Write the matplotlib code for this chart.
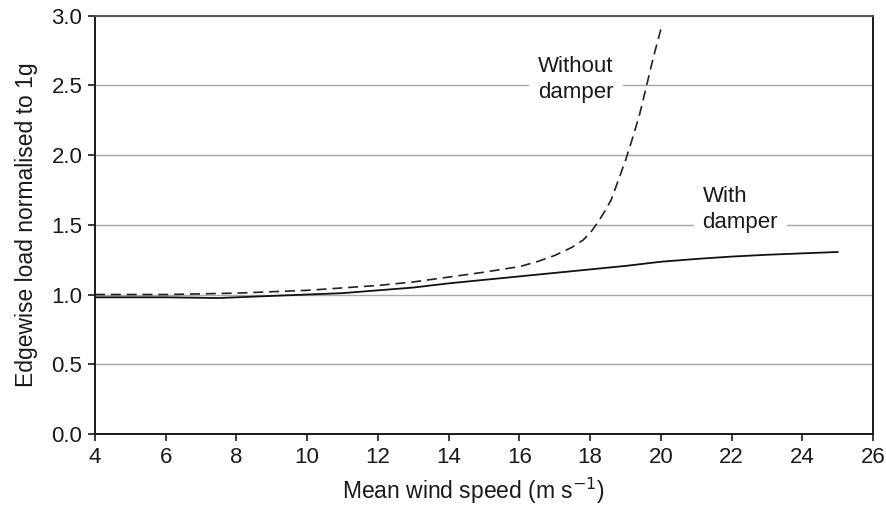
import matplotlib.pyplot as plt
import numpy as np

plt.rcParams['font.family'] = ['Liberation Sans', 'DejaVu Sans']

# Data
wind_without = [4, 6, 8, 10, 12, 13, 14, 15, 16, 16.5, 17, 17.5, 17.8, 18.0, 18.2, 18.4,
                18.6, 18.8, 19.0, 19.2, 19.4, 19.6, 19.8, 20.0]
load_without = [1.00, 1.00, 1.01, 1.03, 1.065, 1.09, 1.125, 1.16, 1.20, 1.235, 1.28, 1.34,
                1.39, 1.44, 1.51, 1.59, 1.68, 1.82, 1.96, 2.12, 2.29, 2.50, 2.71, 2.90]

wind_with = [4, 6, 7.5, 8.5, 10, 11, 12, 13, 14, 15, 16, 17, 18, 19, 20, 21, 22, 23, 24, 25]
load_with = [0.98, 0.98, 0.975, 0.985, 1.00, 1.01, 1.03, 1.05, 1.08, 1.105, 1.13, 1.155,
             1.18, 1.205, 1.235, 1.255, 1.272, 1.285, 1.295, 1.305]

x_ticks = np.arange(4, 27, 2)
y_ticks = np.arange(0, 3.01, 0.5)

############################### Create the plot ###############################
fig = plt.figure(figsize=(8.86, 5.09), dpi=100)
ax = fig.add_axes([0.1072, 0.1473, 0.8781, 0.8222])

ax.plot(wind_without, load_without, color='#222222', linestyle=(0, (6, 3.5)), linewidth=1.2)
ax.plot(wind_with, load_with, color='#111111', linestyle='-', linewidth=1.3)

ax.set_xlim(4, 26)
ax.set_ylim(0, 3.0)
ax.set_xticks(x_ticks)
ax.set_yticks(y_ticks)
ax.set_yticklabels(['%.1f' % v for v in y_ticks])

# horizontal gridlines only
ax.yaxis.grid(True, color='#a8a8a8', linewidth=1.0)
ax.set_axisbelow(True)

for side in ['left', 'bottom', 'right']:
    ax.spines[side].set_color('#1a1a1a')
    ax.spines[side].set_linewidth(1.4)
ax.spines['top'].set_color('#555555')
ax.spines['top'].set_linewidth(1.4)

ax.tick_params(axis='both', direction='out', length=5, width=1.2, labelsize=16,
               colors='#1a1a1a', pad=4)

ax.set_xlabel('Mean wind speed (m s$^{-1}$)', fontsize=16.5, color='#1a1a1a', labelpad=7)
ax.xaxis.set_label_coords(0.487, -0.1)
ax.set_ylabel('Edgewise load normalised to 1g', fontsize=16.5, color='#1a1a1a', labelpad=10)

# Curve labels with white boxes covering the gridlines
box = dict(boxstyle='square,pad=0.4', facecolor='white', edgecolor='none')
ax.text(17.6, 2.54, 'Without\ndamper', ha='center', va='center', multialignment='left',
        fontsize=16, linespacing=1.3, color='#1a1a1a', bbox=box)
ax.text(22.25, 1.61, 'With\ndamper', ha='center', va='center', multialignment='left',
        fontsize=16, linespacing=1.3, color='#1a1a1a', bbox=box)

plt.savefig('out.png', dpi=100)
